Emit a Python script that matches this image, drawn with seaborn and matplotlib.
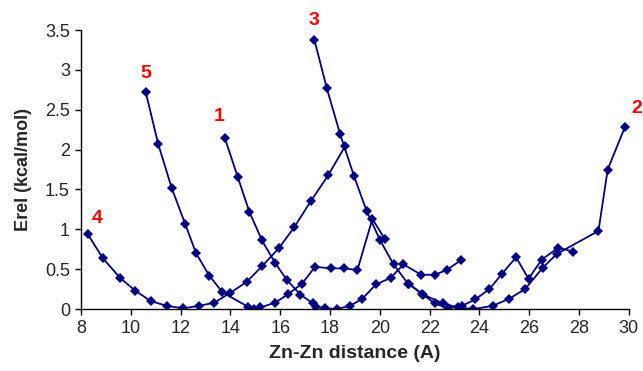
import matplotlib
matplotlib.use("Agg")
import matplotlib.pyplot as plt
import matplotlib.ticker as mticker
import seaborn as sns
import pandas as pd

# ---- data ----
curve1_x = [13.78, 14.29, 14.76, 15.27, 15.79, 16.28, 16.81, 17.32, 17.42, 17.78, 18.27, 18.8, 19.3, 19.85, 20.43, 20.95, 21.66, 22.2, 22.69, 23.24]
curve1_y = [2.14, 1.66, 1.22, 0.86, 0.58, 0.36, 0.18, 0.07, 0.03, 0.01, 0.0, 0.04, 0.13, 0.31, 0.39, 0.56, 0.43, 0.43, 0.49, 0.61]

curve2_x = [29.85, 29.15, 28.78, 27.1, 26.55, 25.83, 25.2, 24.53, 23.76, 23.13, 22.55, 21.75, 21.19]
curve2_y = [2.29, 1.75, 0.98, 0.69, 0.52, 0.25, 0.13, 0.04, 0.0, 0.02, 0.07, 0.18, 0.31]

curve3_x = [17.37, 17.87, 18.4, 18.96, 19.47, 20.0, 20.55, 21.13, 21.7, 22.2, 22.75, 23.29, 23.83, 24.4, 24.9, 25.47, 25.97, 26.5, 27.17, 27.77]
curve3_y = [3.38, 2.77, 2.2, 1.67, 1.23, 0.87, 0.56, 0.32, 0.19, 0.07, 0.01, 0.04, 0.12, 0.25, 0.44, 0.65, 0.38, 0.62, 0.77, 0.72]

curve4_x = [8.27, 8.87, 9.57, 10.18, 10.8, 11.44, 12.11, 12.74, 13.35, 13.98, 14.65, 15.28, 15.96, 16.57, 17.22, 17.93, 18.6]
curve4_y = [0.94, 0.64, 0.39, 0.23, 0.1, 0.04, 0.01, 0.04, 0.08, 0.2, 0.34, 0.54, 0.77, 1.03, 1.35, 1.68, 2.04]

curve5_x = [10.6, 11.1, 11.64, 12.18, 12.62, 13.15, 13.68, 14.7, 14.96, 15.2, 15.8, 16.33, 16.88, 17.4, 18.03, 18.56, 19.1, 19.7, 20.2]
curve5_y = [2.72, 2.07, 1.52, 1.07, 0.70, 0.42, 0.21, 0.03, 0.0, 0.02, 0.08, 0.19, 0.32, 0.53, 0.51, 0.51, 0.49, 1.13, 0.88]

labels = ["1", "2", "3", "4", "5"]
label_x = [13.55, 30.3, 17.36, 8.63, 10.6]
label_y = [2.41, 2.51, 3.62, 1.14, 2.96]

x_ticks = [8, 10, 12, 14, 16, 18, 20, 22, 24, 26, 28, 30]
y_ticks = [0, 0.5, 1, 1.5, 2, 2.5, 3, 3.5]

curves = {
    "1": (curve1_x, curve1_y),
    "2": (curve2_x, curve2_y),
    "3": (curve3_x, curve3_y),
    "4": (curve4_x, curve4_y),
    "5": (curve5_x, curve5_y),
}

frames = []
for name, (xs, ys) in curves.items():
    frames.append(pd.DataFrame({"x": xs, "y": ys, "curve": name, "order": range(len(xs))}))
df = pd.concat(frames, ignore_index=True)

sns.set_theme(style="white")
plt.rcParams["font.family"] = ["Liberation Sans", "DejaVu Sans"]

fig = plt.figure(figsize=(6.43, 3.71), dpi=100)
ax = fig.add_axes([0.126, 0.167, 0.852, 0.752])

for name in labels:
    sub = df[df["curve"] == name]
    sns.lineplot(data=sub, x="x", y="y", sort=False, estimator=None,
                 color="#000080", linewidth=1.3, marker="D", markersize=5.2,
                 markeredgewidth=0, ax=ax)

for t, lx, ly in zip(labels, label_x, label_y):
    ax.text(lx, ly, t, color="#ff0000", fontsize=14, fontweight="bold",
            ha="center", va="center", clip_on=False)

ax.set_xlim(8, 30)
ax.set_ylim(0, 3.5)
ax.set_xticks(x_ticks)
ax.set_yticks(y_ticks)
ax.yaxis.set_major_formatter(mticker.FormatStrFormatter("%g"))
ax.tick_params(axis="both", which="major", direction="out", length=4, width=1,
               color="black", labelsize=13, pad=4, left=True, bottom=True)
for s in ["top", "right"]:
    ax.spines[s].set_visible(False)
for s in ["left", "bottom"]:
    ax.spines[s].set_color("black")
    ax.spines[s].set_linewidth(1)
ax.set_xlabel("Zn-Zn distance (A)", fontsize=14, fontweight="bold", labelpad=6)
ax.set_ylabel("Erel (kcal/mol)", fontsize=13, fontweight="bold", labelpad=9)

fig.savefig("out.png", dpi=100)
